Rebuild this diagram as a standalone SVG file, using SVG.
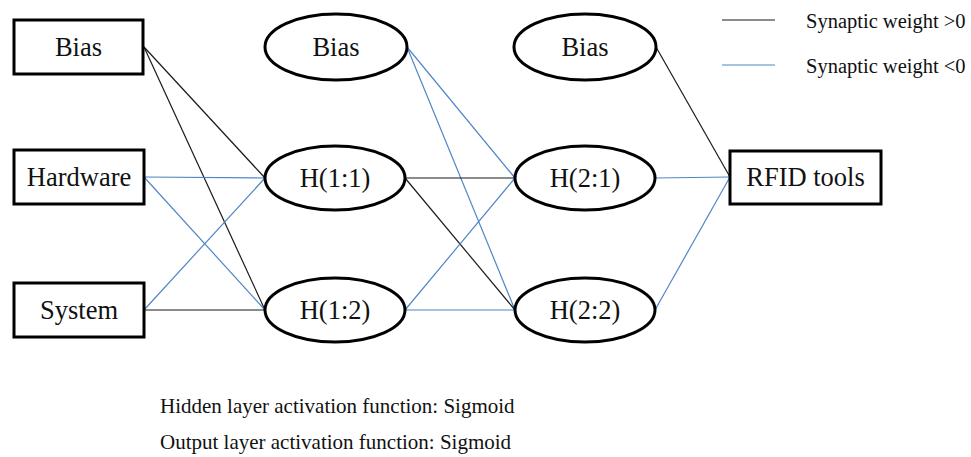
<svg xmlns="http://www.w3.org/2000/svg" width="971" height="457" viewBox="0 0 971 457">
<style>
.node{fill:#fff;stroke:#000;stroke-width:3}
.lbl{font-family:"Liberation Serif","Times New Roman",serif;font-size:26.5px;fill:#111;text-anchor:middle;dominant-baseline:central}
.pos{stroke:#1a1a1a;stroke-width:1.2;fill:none}
.neg{stroke:#4f86c6;stroke-width:1.2;fill:none}
.note{font-family:"Liberation Serif","Times New Roman",serif;font-size:21px;fill:#111}
.leg{font-family:"Liberation Serif","Times New Roman",serif;font-size:20.5px;fill:#111}
</style>
<rect width="971" height="457" fill="#fff"/>
<g id="connectors">
<line class="pos" x1="144" y1="47" x2="265" y2="178"/>
<line class="pos" x1="144" y1="47" x2="265" y2="310"/>
<line class="neg" x1="144" y1="177" x2="265" y2="178"/>
<line class="neg" x1="144" y1="177" x2="265" y2="310"/>
<line class="neg" x1="144" y1="310" x2="265" y2="178"/>
<line class="pos" x1="144" y1="310" x2="265" y2="310"/>
<line class="neg" x1="407" y1="47" x2="515" y2="178"/>
<line class="neg" x1="407" y1="47" x2="515" y2="310"/>
<line class="pos" x1="405" y1="178" x2="515" y2="178"/>
<line class="pos" x1="405" y1="178" x2="515" y2="310"/>
<line class="neg" x1="405" y1="310" x2="515" y2="178"/>
<line class="neg" x1="405" y1="310" x2="515" y2="310"/>
<line class="pos" x1="656" y1="47" x2="730" y2="177"/>
<line class="neg" x1="655" y1="178" x2="730" y2="177"/>
<line class="neg" x1="655" y1="310" x2="730" y2="177"/>
</g>
<g id="in-bias"><rect class="node" x="14" y="20" width="129" height="54"/><text class="lbl" x="78.5" y="47">Bias</text></g>
<g id="in-hardware"><rect class="node" x="14" y="150" width="130" height="54"/><text class="lbl" x="79" y="177">Hardware</text></g>
<g id="in-system"><rect class="node" x="14" y="283" width="130" height="54"/><text class="lbl" x="79" y="310">System</text></g>
<g id="h1-bias"><ellipse class="node" cx="336" cy="47" rx="71" ry="33"/><text class="lbl" x="336" y="47">Bias</text></g>
<g id="h11"><ellipse class="node" cx="335" cy="178" rx="70" ry="32"/><text class="lbl" x="335" y="178">H(1:1)</text></g>
<g id="h12"><ellipse class="node" cx="335" cy="310" rx="70" ry="32"/><text class="lbl" x="335" y="310">H(1:2)</text></g>
<g id="h2-bias"><ellipse class="node" cx="585" cy="47" rx="71" ry="33"/><text class="lbl" x="585" y="47">Bias</text></g>
<g id="h21"><ellipse class="node" cx="585" cy="178" rx="70" ry="32"/><text class="lbl" x="585" y="178">H(2:1)</text></g>
<g id="h22"><ellipse class="node" cx="585" cy="310" rx="70" ry="32"/><text class="lbl" x="585" y="310">H(2:2)</text></g>
<g id="out-rfid"><rect class="node" x="730" y="151" width="151" height="53"/><text class="lbl" x="805.5" y="177">RFID tools</text></g>
<g id="legend">
<line class="pos" x1="722" y1="20" x2="775" y2="20"/>
<line class="neg" x1="722" y1="65" x2="775" y2="65"/>
<text class="leg" x="806" y="28">Synaptic weight &gt;0</text>
<text class="leg" x="806" y="73">Synaptic weight &lt;0</text>
</g>
<g id="notes">
<text class="note" x="160" y="413">Hidden layer activation function: Sigmoid</text>
<text class="note" x="160" y="449">Output layer activation function: Sigmoid</text>
</g>
</svg>
